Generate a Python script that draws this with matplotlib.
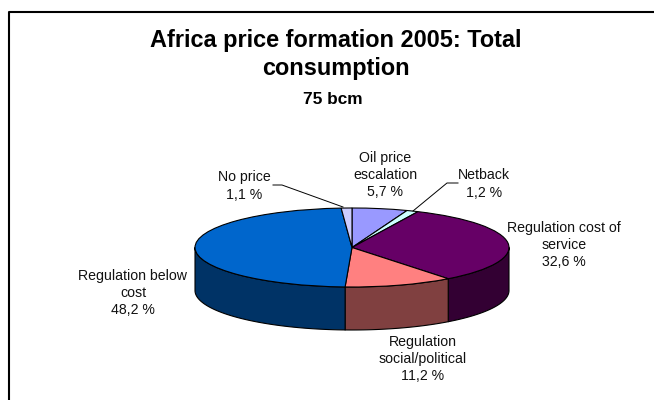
"""
Africa price formation 2005: tilted pie with a 3D-looking rim.
"""

import matplotlib.pyplot as plt
import numpy as np

plt.rcParams["font.family"] = ["Liberation Sans", "DejaVu Sans"]

WIDTH, HEIGHT = 654, 400

# Slice order runs clockwise from twelve o'clock
CATEGORIES = [
    "Oil price\nescalation",
    "Netback",
    "Regulation cost of\nservice",
    "Regulation\nsocial/political",
    "Regulation below\ncost",
    "No price",
]
SHARES = [5.7, 1.2, 32.6, 11.2, 48.2, 1.1]
SHARE_LABELS = ["5,7 %", "1,2 %", "32,6 %", "11,2 %", "48,2 %", "1,1 %"]
TOP_COLOURS = ["#9999FF", "#CCFFFF", "#660066", "#FF8080", "#0066CC", "#CCCCFF"]
SIDE_COLOURS = ["#4D4D80", "#668080", "#330033", "#804040", "#003366", "#666680"]

# Label centres in pixels
LABEL_X = [385, 484, 564, 423, 133, 244]
LABEL_Y = [175, 184, 245, 359, 293, 186]

CENTRE_X, CENTRE_Y = 352, 247.5
RADIUS_X, RADIUS_Y = 157, 39.5
RIM_DEPTH = 43 / RADIUS_Y


def draw_rim(ax, shares, colours):
    """
    Draw the visible lower wall of each slice below the pie top.
    """
    edges = 90 - np.cumsum([0] + shares) * 3.6
    for start, stop, colour in zip(edges[:-1], edges[1:], colours):
        # only the part of the slice facing the viewer has a wall
        upper, lower = min(start, 0), max(stop, -180)
        if upper <= lower:
            continue
        theta = np.radians(np.linspace(upper, lower, 60))
        x = np.cos(theta)
        y = np.sin(theta)
        ax.fill(
            np.r_[x, x[::-1]],
            np.r_[y, y[::-1] - RIM_DEPTH],
            facecolor=colour,
            edgecolor="black",
            linewidth=0.8,
            joinstyle="round",
        )


fig = plt.figure(figsize=(WIDTH / 100, HEIGHT / 100), dpi=100, facecolor="white")

# Pie axes: unit circle is stretched into the projected ellipse
y_top, y_bottom = 1.25, -2.6
pie_ax = fig.add_axes(
    [
        (CENTRE_X - 1.25 * RADIUS_X) / WIDTH,
        1 - (CENTRE_Y - y_bottom * RADIUS_Y) / HEIGHT,
        2.5 * RADIUS_X / WIDTH,
        (y_top - y_bottom) * RADIUS_Y / HEIGHT,
    ]
)
draw_rim(pie_ax, SHARES, SIDE_COLOURS)
pie_ax.pie(
    SHARES,
    colors=TOP_COLOURS,
    startangle=90,
    counterclock=False,
    wedgeprops={"edgecolor": "black", "linewidth": 0.8},
)
pie_ax.set_aspect("auto")
pie_ax.set_xlim(-1.25, 1.25)
pie_ax.set_ylim(y_bottom, y_top)
pie_ax.axis("off")

# Overlay in pixel coordinates for frame, titles and labels
ax = fig.add_axes([0, 0, 1, 1], facecolor="none")
ax.set_xlim(0, WIDTH)
ax.set_ylim(HEIGHT, 0)
ax.axis("off")

ax.plot([WIDTH, 9, 9], [12, 12, HEIGHT], color="black", linewidth=1.5)

ax.text(336, 41, "Africa price formation 2005: Total", fontsize=16.9,
        fontweight="bold", ha="center", va="center")
ax.text(336, 69, "consumption", fontsize=16.9,
        fontweight="bold", ha="center", va="center")
ax.text(333, 100, "75 bcm", fontsize=12.4,
        fontweight="bold", ha="center", va="center")

for name, share, x, y in zip(CATEGORIES, SHARE_LABELS, LABEL_X, LABEL_Y):
    ax.text(x, y, f"{name}\n{share}", fontsize=10.2, ha="center", va="center",
            linespacing=1.3, color="#111111")

# Leader lines
ax.plot([273, 282, 343], [185, 185, 207], color="black", linewidth=0.7)
ax.plot([458, 447, 413], [183, 183, 211], color="black", linewidth=0.7)

fig.savefig("out.png", dpi=100)
